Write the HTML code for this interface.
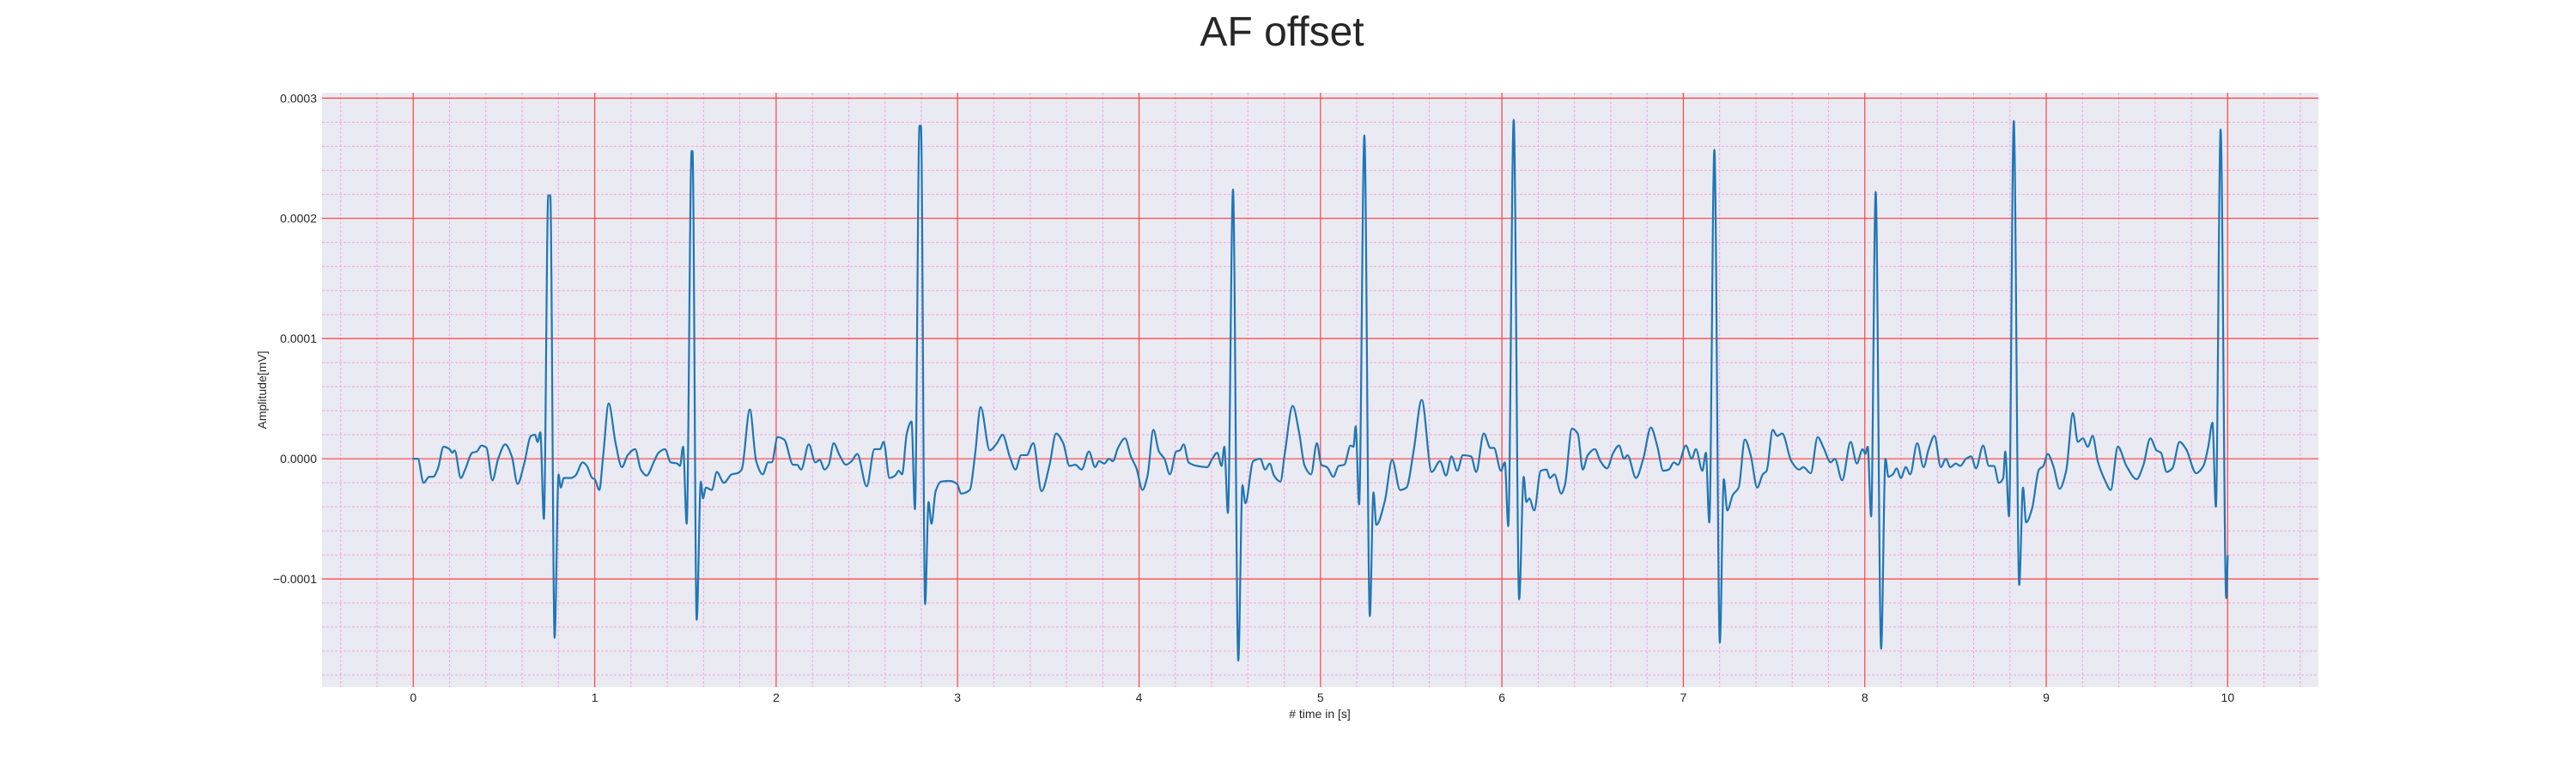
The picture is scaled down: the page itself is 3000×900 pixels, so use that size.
<!DOCTYPE html>
<html><head><meta charset="utf-8"><title>AF offset</title>
<style>
html,body{margin:0;padding:0;background:#fff;}
svg{display:block;font-family:"Liberation Sans",sans-serif;}
</style></head>
<body>
<svg id="chart" width="3000" height="900" viewBox="0 0 3000 900" xmlns="http://www.w3.org/2000/svg">
  <text x="1493" y="53" font-size="48" text-anchor="middle" fill="#262626">AF offset</text>
  <rect x="375" y="108" width="2325" height="692" fill="#eaeaf2"/>
  <g id="grid-minor"></g>
  <g id="grid-major"></g>
  <g id="series"></g>
  <g id="xticks"></g>
  <g id="yticks"></g>
  <text x="1537" y="836" font-size="14" text-anchor="middle" fill="#262626"># time in [s]</text>
  <text x="0" y="0" font-size="14" text-anchor="middle" fill="#262626" transform="translate(310,454) rotate(-90)">Amplitude[mV]</text>
</svg>
<script>
// ---- data (time in s, amplitude in 1e-4 mV) ----
const xTickValues = [0,1,2,3,4,5,6,7,8,9,10];
const xTickLabels = ["0","1","2","3","4","5","6","7","8","9","10"];
const yTickValues = [-0.0001,0,0.0001,0.0002,0.0003];
const yTickLabels = ["\u22120.0001","0.0000","0.0001","0.0002","0.0003"];
const times = [
0,0.025,0.057,0.088,0.11,0.136,0.167,0.2,0.215,0.228,0.262,0.286,0.325,0.35,0.376,0.404,0.436,0.468,0.507,0.543,0.575,0.61,0.649,0.67,0.686,0.70,0.72,0.744,0.755,0.779,0.801,0.813,0.83,0.87,0.894,0.934,0.957,0.986,1.0,1.025,1.047,1.077,1.115,1.15,1.182,1.223,1.254,1.286,1.328,1.352,1.387,1.419,1.455,1.47,1.487,1.507,1.534,1.539,1.562,1.585,1.597,1.613,1.645,1.673,1.712,1.755,1.787,1.81,1.855,1.89,1.926,1.956,1.976,2.008,
2.044,2.094,2.115,2.138,2.18,2.216,2.24,2.267,2.29,2.317,2.349,2.385,2.416,2.447,2.499,2.542,2.573,2.592,2.625,2.656,2.675,2.694,2.72,2.746,2.765,2.79,2.798,2.821,2.84,2.856,2.879,2.91,2.958,2.997,3.02,3.067,3.096,3.127,3.177,3.217,3.248,3.287,3.319,3.35,3.381,3.417,3.463,3.507,3.543,3.582,3.617,3.648,3.684,3.724,3.758,3.779,3.809,3.834,3.856,3.884,3.923,3.955,3.986,4.019,
4.047,4.079,4.11,4.14,4.17,4.205,4.226,4.246,4.273,4.297,4.32,4.376,4.4,4.431,4.455,4.47,4.49,4.518,4.547,4.57,4.586,4.629,4.668,4.695,4.72,4.744,4.779,4.803,4.847,4.882,4.913,4.948,4.98,5.005,5.036,5.071,5.1,5.131,5.166,5.182,5.194,5.213,5.242,5.272,5.292,5.308,5.355,5.395,5.439,5.474,5.513,5.558,5.613,5.659,5.692,5.722,5.754,5.785,5.83,5.858,5.9,5.937,5.956,5.995,6.016,6.035,6.065,6.095,
6.12,6.135,6.151,6.178,6.214,6.245,6.265,6.289,6.327,6.347,6.386,6.418,6.446,6.473,6.512,6.543,6.579,6.614,6.645,6.674,6.692,6.739,6.779,6.821,6.857,6.889,6.92,6.948,6.97,7.014,7.046,7.069,7.105,7.124,7.143,7.171,7.201,7.223,7.242,7.273,7.305,7.339,7.371,7.407,7.438,7.459,7.493,7.517,7.545,7.595,7.639,7.661,7.702,7.74,7.773,7.812,7.835,7.875,7.922,7.956,7.988,8.003,8.016,8.035,8.06,8.09,
8.114,8.13,8.155,8.175,8.199,8.226,8.25,8.289,8.324,8.352,8.384,8.419,8.447,8.471,8.502,8.526,8.558,8.586,8.613,8.652,8.684,8.712,8.739,8.763,8.774,8.795,8.821,8.851,8.872,8.889,8.921,8.96,8.984,9.008,9.039,9.074,9.11,9.147,9.174,9.202,9.229,9.256,9.284,9.324,9.355,9.395,9.442,9.498,9.534,9.574,9.608,9.632,9.664,9.695,9.735,9.771,9.826,9.866,9.893,9.916,9.935,9.961,9.992,10.0
];
const amplitudes = [
0,0,-0.2,-0.15,-0.15,-0.08,0.1,0.08,0.05,0.07,-0.16,-0.09,0.05,0.06,0.11,0.09,-0.18,0,0.12,0.02,-0.21,-0.05,0.19,0.2,0.14,0.22,-0.5,2.19,2.19,-1.49,-0.13,-0.24,-0.16,-0.16,-0.14,-0.03,-0.06,-0.16,-0.17,-0.26,0.03,0.46,0.13,-0.07,0.03,0.08,-0.09,-0.14,-0.02,0.05,0.08,-0.03,-0.04,-0.06,0.10,-0.54,2.56,2.56,-1.34,-0.19,-0.33,-0.24,-0.26,-0.11,-0.2,-0.13,-0.12,-0.09,0.41,-0.02,-0.13,-0.03,-0.03,0.18,
0.16,-0.05,-0.05,-0.09,0.12,-0.03,-0.01,-0.09,-0.05,0.13,0.03,-0.05,-0.02,0.04,-0.23,0.08,0.08,0.14,-0.16,-0.14,-0.1,-0.13,0.21,0.31,-0.42,2.77,2.77,-1.21,-0.36,-0.54,-0.27,-0.19,-0.185,-0.21,-0.29,-0.26,0.03,0.43,0.07,0.13,0.2,0.02,-0.09,0.03,0.03,0.13,-0.27,-0.05,0.21,0.13,-0.06,-0.05,-0.09,0.06,-0.07,-0.02,-0.04,0,-0.02,0.09,0.17,0.02,-0.08,-0.26,
-0.14,0.24,0.06,0,-0.13,0.06,0.07,0.12,-0.03,-0.05,-0.06,-0.07,-0.01,0.05,-0.06,0.1,-0.45,2.24,-1.68,-0.22,-0.37,-0.02,0,-0.09,-0.04,-0.14,-0.19,0.04,0.44,0.22,-0.06,-0.13,0.13,-0.05,-0.07,-0.15,-0.06,-0.05,0.11,0.1,0.27,-0.38,2.69,-1.31,-0.28,-0.55,-0.35,-0.01,-0.26,-0.24,0.06,0.49,-0.11,-0.02,-0.14,0.02,-0.1,0.03,0.02,-0.11,0.21,0.09,0.09,-0.1,-0.03,-0.56,2.82,-1.17,
-0.15,-0.36,-0.33,-0.43,-0.1,-0.09,-0.16,-0.13,-0.29,-0.22,0.25,0.21,-0.09,0.03,0.08,-0.02,-0.08,0.05,0.11,0,0.03,-0.16,0,0.26,0.1,-0.1,-0.09,-0.03,-0.05,0.11,0,0.08,-0.1,0.05,-0.53,2.57,-1.53,-0.17,-0.43,-0.3,-0.24,0.16,0.03,-0.24,-0.13,-0.1,0.24,0.19,0.21,-0.02,-0.09,-0.07,-0.12,0.18,0.09,-0.03,0,-0.18,0.14,-0.04,0.08,0.04,0.1,-0.48,2.22,-1.58,
0,-0.15,-0.13,-0.08,-0.16,-0.07,-0.13,0.13,-0.07,0.08,0.19,-0.07,0,-0.07,-0.04,-0.06,0,0.02,-0.08,0.11,-0.06,-0.06,-0.2,-0.16,0.06,-0.48,2.81,-1.05,-0.24,-0.53,-0.42,-0.09,-0.06,0.04,-0.06,-0.25,-0.1,0.38,0.14,0.17,0.1,0.19,-0.02,-0.18,-0.26,0.1,-0.06,-0.17,-0.06,0.17,0.07,0.05,-0.11,-0.08,0.14,0.08,-0.12,-0.06,0.1,0.3,-0.4,2.74,-1.16,-0.81
];
// ---- axes ----
const X0=375, X1=2700, Y0=108, Y1=800;
const xMin=-0.503, xMax=10.5, yMin=-0.000190, yMax=0.0003045;
function xScale(t){ return X0 + (t - xMin) / (xMax - xMin) * (X1 - X0); }
function yScale(v){ return Y1 - (v - yMin) / (yMax - yMin) * (Y1 - Y0); }
const NS='http://www.w3.org/2000/svg';
function mk(tag, parent){ const e=document.createElementNS(NS,tag); parent.appendChild(e); return e; }

const gMin=document.getElementById('grid-minor');
for(let i=-2;i<=52;i++){
  const t=i*0.2; if(i%5===0) continue;
  const x=xScale(t); if(x<X0||x>X1) continue;
  const l=mk('line',gMin);
  
  
  l.setAttribute('x1',x);l.setAttribute('x2',x);l.setAttribute('y1',Y0);l.setAttribute('y2',Y1);
  l.setAttribute('stroke','#f0a8e0');l.setAttribute('stroke-width','1');l.setAttribute('stroke-dasharray','3,2');
}
for(let i=-10;i<=16;i++){
  const v=i*0.00002; if(i%5===0) continue;
  const y=yScale(v); if(y<Y0||y>Y1) continue;
  const l=mk('line',gMin);
  
  
  l.setAttribute('x1',X0);l.setAttribute('x2',X1);l.setAttribute('y1',y);l.setAttribute('y2',y);
  l.setAttribute('stroke','#f0a8e0');l.setAttribute('stroke-width','1');l.setAttribute('stroke-dasharray','3,2');
}
const gMaj=document.getElementById('grid-major');
const gx=document.getElementById('xticks');
xTickValues.forEach((t,i)=>{
  const x=xScale(t);
  const l=mk('line',gMaj);
  
  
  l.setAttribute('x1',x);l.setAttribute('x2',x);l.setAttribute('y1',Y0);l.setAttribute('y2',Y1);
  l.setAttribute('stroke','#ff4d4d');l.setAttribute('stroke-width','1.3');
  const tx=mk('text',gx);
  
  
  tx.setAttribute('x',x);tx.setAttribute('y',817);tx.setAttribute('font-size','14');
  tx.setAttribute('text-anchor','middle');tx.setAttribute('fill','#262626');
  tx.textContent=xTickLabels[i];
});
const gy=document.getElementById('yticks');
yTickValues.forEach((v,i)=>{
  const y=yScale(v);
  const l=mk('line',gMaj);
  
  
  l.setAttribute('x1',X0);l.setAttribute('x2',X1);l.setAttribute('y1',y);l.setAttribute('y2',y);
  l.setAttribute('stroke','#ff4d4d');l.setAttribute('stroke-width','1.3');
  const tx=mk('text',gy);
  
  
  tx.setAttribute('x',369);tx.setAttribute('y',y+5);tx.setAttribute('font-size','14');
  tx.setAttribute('text-anchor','end');tx.setAttribute('fill','#262626');
  tx.textContent=yTickLabels[i];
});
// monotone cubic (Fritsch-Carlson) smoothing through data points
const px=times.map(xScale), py=amplitudes.map(a=>yScale(a*1e-4));
const n=px.length, m=new Array(n), sl=new Array(n-1);
for(let i=0;i<n-1;i++) sl[i]=(py[i+1]-py[i])/(px[i+1]-px[i]);
m[0]=sl[0]; m[n-1]=sl[n-2];
for(let i=1;i<n-1;i++){
  if(sl[i-1]*sl[i]<=0) m[i]=0;
  else { const h0=px[i]-px[i-1], h1=px[i+1]-px[i];
    m[i]=3*(h0+h1)/((2*h1+h0)/sl[i-1]+(h1+2*h0)/sl[i]); }
}
let d='M'+px[0].toFixed(2)+','+py[0].toFixed(2);
for(let i=0;i<n-1;i++){
  const h=(px[i+1]-px[i])/3;
  d+='C'+(px[i]+h).toFixed(2)+','+(py[i]+m[i]*h).toFixed(2)+' '+(px[i+1]-h).toFixed(2)+','+(py[i+1]-m[i+1]*h).toFixed(2)+' '+px[i+1].toFixed(2)+','+py[i+1].toFixed(2);
}
const gs=document.getElementById('series');
const p=mk('path',gs);


p.setAttribute('d',d);p.setAttribute('fill','none');p.setAttribute('stroke','#1f77b4');
p.setAttribute('stroke-width','2.2');p.setAttribute('stroke-linejoin','round');p.setAttribute('stroke-linecap','round');
</script>
</body></html>
